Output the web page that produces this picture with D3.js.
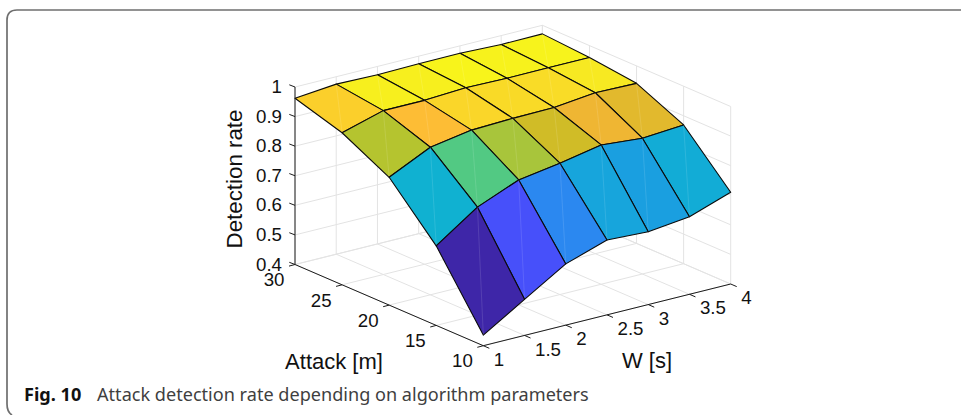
<!DOCTYPE html>
<html><head><meta charset="utf-8">
<script src="https://cdn.jsdelivr.net/npm/d3@7"></script>
<style>html,body{margin:0;padding:0;background:#fff}svg{display:block}</style>
</head><body><svg id="c" width="961" height="415"></svg>
<script>
const windows = [1, 1.5, 2, 2.5, 3, 3.5, 4];
const attacks = [30, 25, 20, 15, 10];
const rateA30 = [0.962, 0.975, 0.972, 0.974, 0.975, 0.970, 0.971];
const rateA25 = [0.914, 0.954, 0.954, 0.962, 0.959, 0.960, 0.960];
const rateA20 = [0.832, 0.899, 0.922, 0.927, 0.929, 0.944, 0.941];
const rateA15 = [0.669, 0.765, 0.822, 0.844, 0.871, 0.859, 0.869];
const rateA10 = [0.436, 0.522, 0.607, 0.653, 0.646, 0.662, 0.710];
const rates = [rateA30, rateA25, rateA20, rateA15, rateA10];
const zTicks = [0.4, 0.5, 0.6, 0.7, 0.8, 0.9, 1];
const zTickLabels = ["0.4", "0.5", "0.6", "0.7", "0.8", "0.9", "1"];
const wTickLabels = ["1", "1.5", "2", "2.5", "3", "3.5", "4"];
const aTickLabels = ["30", "25", "20", "15", "10"];
const parula = ["#3e26a8","#4750fa","#2d86f2","#1a9fe0","#0fb1d2","#2fbeaa","#49c98a","#8fc752","#b5c42f","#d4bb26","#f1b634","#fdbd35","#fbcf2b","#f6ec21","#f9fb15"];
const parulaPos = [0.0,0.16,0.31,0.39,0.43,0.52,0.60,0.68,0.735,0.76,0.81,0.86,0.887,0.95,1.0];

const svg = d3.select("#c");
const FONT = "'Liberation Sans', Arial, sans-serif";
const ink = "#1c1c1c", gridC = "#e3e3e3";

// orthographic 3-D projection, built from linear scales
const wx = d3.scaleLinear([1, 4], [0, 247.4]), wy = d3.scaleLinear([1, 4], [0, -61.7]);
const ax = d3.scaleLinear([30, 10], [0, 188.3]), ay = d3.scaleLinear([30, 10], [0, 81.2]);
const zy = d3.scaleLinear([0.4, 1], [0, -177.5]);
const P = (w, a, z) => [295 + wx(w) + ax(a), 264.5 + wy(w) + ay(a) + zy(z)];
const color = d3.scaleLinear().domain(parulaPos.map(p => 0.436 + p * (0.975 - 0.436))).range(parula).clamp(true);
const line = d3.line();
const [w0, w1] = [windows[0], windows[windows.length - 1]];
const [a0, a1] = [attacks[0], attacks[attacks.length - 1]];

// frame: top rule and left side only, running off the picture
svg.append("path").attr("d", "M961,10 L17,10 Q7,10 7,20 L7,404 Q7,412 12,415")
  .attr("fill", "none").attr("stroke", "#6f6f6f").attr("stroke-width", 1.7);

// grid
const grid = svg.append("g").attr("fill", "none").attr("stroke", gridC).attr("stroke-width", 1);
const seg = (a, b) => grid.append("path").attr("d", line([a, b]));
windows.forEach(w => { seg(P(w, a0, 0.4), P(w, a0, 1)); seg(P(w, a0, 0.4), P(w, a1, 0.4)); });
attacks.forEach(a => { seg(P(w1, a, 0.4), P(w1, a, 1)); seg(P(w0, a, 0.4), P(w1, a, 0.4)); });
zTicks.forEach(z => { seg(P(w0, a0, z), P(w1, a0, z)); seg(P(w1, a0, z), P(w1, a1, z)); });

// surface, back to front
const surf = svg.append("g");
for (let i = 0; i < attacks.length - 1; i++) {
  for (let j = windows.length - 2; j >= 0; j--) {
    const a = P(windows[j], attacks[i], rates[i][j]);
    const b = P(windows[j + 1], attacks[i], rates[i][j + 1]);
    const c = P(windows[j + 1], attacks[i + 1], rates[i + 1][j + 1]);
    const d = P(windows[j], attacks[i + 1], rates[i + 1][j]);
    surf.append("path").attr("d", line([a, b, c, d]) + "Z")
      .attr("fill", color(rates[i + 1][j])).attr("stroke", "#0a0a0a").attr("stroke-width", 1.1).attr("stroke-linejoin", "round");
    surf.append("path").attr("d", line([b, d])).attr("stroke", "#fff").attr("stroke-opacity", 0.15).attr("stroke-width", 0.8);
  }
}

// axes
const axes = svg.append("g").attr("fill", "none").attr("stroke", ink).attr("stroke-width", 1);
const aseg = (a, b) => axes.append("path").attr("d", line([a, b]));
aseg(P(w0, a0, 0.4), P(w0, a0, 1));
aseg(P(w0, a0, 0.4), P(w0, a1, 0.4));
aseg(P(w0, a1, 0.4), P(w1, a1, 0.4));
zTicks.forEach(z => { const p = P(w0, a0, z); aseg(p, [p[0] - 5.7, p[1] - 2.2]); });
attacks.forEach(a => { const p = P(w0, a, 0.4); aseg(p, [p[0] - 6, p[1] + 1.6]); });
windows.forEach(w => { const p = P(w, a1, 0.4); aseg(p, [p[0] + 6, p[1] + 2.6]); });

// tick labels
const txt = (x, y, s, size, anchor) => svg.append("text").attr("x", x).attr("y", y).text(s)
  .attr("font-family", FONT).attr("font-size", size).attr("fill", "#111").attr("text-anchor", anchor || "middle").attr("dominant-baseline", "central");
zTicks.forEach((z, i) => { const p = P(w0, a0, z); txt(282, p[1] - 0.5, zTickLabels[i], 18.7, "end"); });
attacks.forEach((a, i) => { const p = P(w0, a, 0.4); txt(p[0] - 10.5, p[1] + 15.2, aTickLabels[i], 18.7, "end"); });
windows.forEach((w, i) => { const p = P(w, a1, 0.4); txt(p[0] + 10.5, p[1] + 13.6, wTickLabels[i], 18.7, "start"); });

// axis titles
txt(334, 361, "Attack [m]", 22);
txt(647, 360, "W [s]", 22);
svg.append("text").attr("transform", "translate(234,179) rotate(-90)").text("Detection rate")
  .attr("font-family", FONT).attr("font-size", 22.3).attr("fill", "#111").attr("text-anchor", "middle").attr("dominant-baseline", "central");

// caption
const cap = svg.append("text").attr("x", 24).attr("y", 400.5).attr("font-family", "'Noto Sans', sans-serif").attr("font-size", 18.1).attr("fill", "#3f3f3f");
cap.append("tspan").attr("font-weight", "bold").attr("fill", "#111").text("Fig. 10");
cap.append("tspan").attr("x", 97).text("Attack detection rate depending on algorithm parameters");
</script></body></html>
